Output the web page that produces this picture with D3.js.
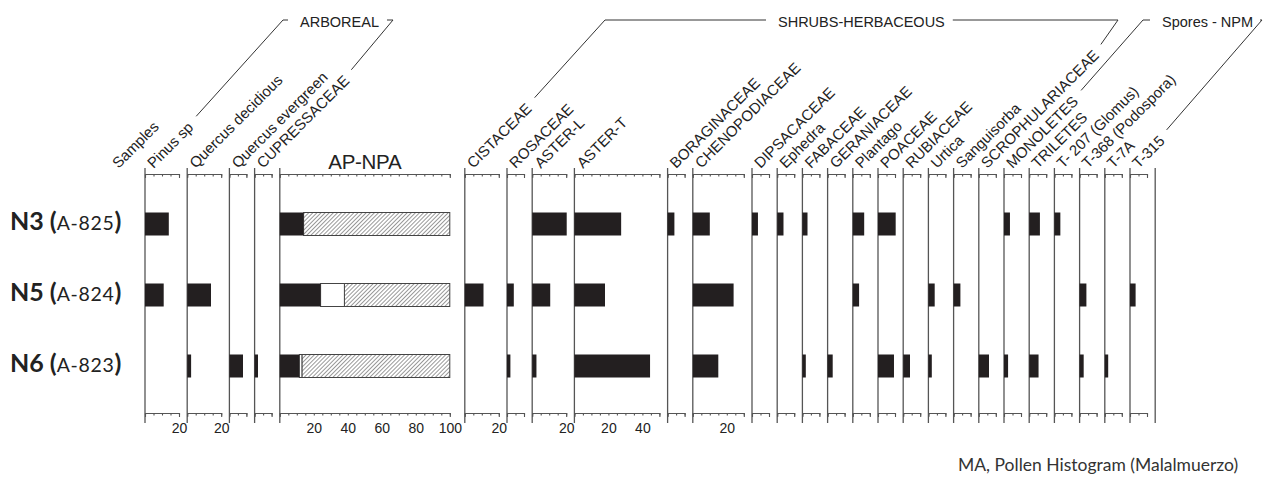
<!DOCTYPE html>
<html>
<head>
<meta charset="utf-8">
<script src="https://cdn.jsdelivr.net/npm/d3@7"></script>
<style>
  body { margin: 0; background: #fff; }
  svg { display: block; }
</style>
</head>
<body>
<svg id="chart" width="1264" height="479"></svg>
<script>
// --- --- --- Data --- --- ---

const samples = ["N3", "N5", "N6"];
const sampleCodes = ["A-825", "A-824", "A-823"];

const taxa = ["Pinus sp", "Quercus decidious", "Quercus evergreen", "CUPRESSACEAE", "AP-NPA",
  "CISTACEAE", "ROSACEAE", "ASTER-L", "ASTER-T", "BORAGINACEAE", "CHENOPODIACEAE",
  "DIPSACACEAE", "Ephedra", "FABACEAE", "GERANIACEAE", "Plantago", "POACEAE", "RUBIACEAE",
  "Urtica", "Sanguisorba", "SCROPHULARIACEAE", "MONOLETES", "TRILETES",
  "T- 207 (Glomus)", "T-368 (Podospora)", "T-7A", "T-315"];
const taxaMax = [20, 20, 10, 10, 100, 20, 10, 20, 50, 10, 30,
  10, 10, 10, 10, 10, 10, 10, 10, 10, 10, 10, 10, 10, 10, 10, 10];

// percentages per sample (for AP-NPA: the black part)
const n3Values = [14, 0, 0, 0, 14, 0, 0, 20.3, 27.5, 4, 10,
  3.5, 3.7, 3, 0, 6.7, 10.4, 0, 0, 0, 0, 3.5, 6.3, 3.5, 0, 0, 0];
const n5Values = [11, 14, 0, 0, 24, 11, 4, 10.6, 18, 0, 24,
  0, 0, 0, 0, 3.7, 0, 0, 3.7, 4, 0, 0, 0, 0, 4, 0, 3.3];
const n6Values = [0, 2.3, 8, 2, 11.5, 0, 2, 2.5, 44.5, 0, 15,
  0, 0, 2, 3, 0, 9.4, 4, 2, 0, 6, 2.4, 5.5, 0, 2.4, 2, 0];
const apWhite = [0, 14, 1.5]; // white part of AP-NPA after the black one

const groups = [
  { title: "ARBOREAL", first: "Pinus sp", last: "CUPRESSACEAE", titleX: 300, leftCorner: 283, rightCorner: 393 },
  { title: "SHRUBS-HERBACEOUS", first: "CISTACEAE", last: "SCROPHULARIACEAE", titleX: 778, leftCorner: 605, rightCorner: 1118 },
  { title: "Spores - NPM", first: "MONOLETES", last: "T-315", titleX: 1162, leftCorner: 1143, rightCorner: 1262 }
];

// --- --- --- Layout --- --- ---
const pxPerPct = 1.7;
const colStart = 145;
const colGap = 8.2;
const topY = 174, axisY = 413, lineTop = 168, lineBottom = 423;
const barH = 23;
const labelFont = "'Liberation Sans', Arial, sans-serif";
const lineColor = "#555";

const svg = d3.select("#chart");

const y = d3.scalePoint().domain(samples).range([224, 366]);
const seriesValues = [n3Values, n5Values, n6Values];

let cursor = colStart;
const columns = taxa.map((name, i) => {
  const w = taxaMax[i] * pxPerPct;
  const col = {
    name, i, max: taxaMax[i], x0: cursor,
    x: d3.scaleLinear().domain([0, taxaMax[i]]).range([cursor, cursor + w])
  };
  cursor += w + (name === "AP-NPA" ? 15 : colGap);
  return col;
});
const endLineX = cursor;

const defs = svg.append("defs");
defs.append("pattern")
  .attr("id", "hatch")
  .attr("patternUnits", "userSpaceOnUse")
  .attr("width", 2.9).attr("height", 2.9)
  .attr("patternTransform", "rotate(45)")
  .append("line")
  .attr("x1", 0).attr("y1", 0).attr("x2", 0).attr("y2", 2.9)
  .attr("stroke", "#333").attr("stroke-width", 1);

// columns: vertical line, top and bottom scales
const colG = svg.selectAll(".col").data(columns).enter().append("g").attr("class", "col");

colG.append("line")
  .attr("x1", d => d.x0).attr("x2", d => d.x0)
  .attr("y1", lineTop).attr("y2", lineBottom)
  .attr("stroke", lineColor).attr("stroke-width", 1.3);

colG.each(function(d) {
  const g = d3.select(this);
  const ticks = d3.range(0, d.max + 1, 5);

  const top = d3.axisBottom(d.x).tickValues(ticks).tickSize(2.5).tickSizeOuter(4).tickFormat("");
  g.append("g").attr("transform", `translate(0,${topY})`).call(top);

  const bottom = d3.axisBottom(d.x).tickValues(ticks).tickSize(2.5).tickSizeOuter(4).tickPadding(8)
    .tickFormat(v => (v > 0 && v % 20 === 0) ? v : "");
  g.append("g").attr("class", "bottom").attr("transform", `translate(0,${axisY})`).call(bottom);

  g.selectAll(".domain, .tick line").attr("stroke", lineColor).attr("stroke-width", 1.1);
  g.selectAll(".tick text")
    .attr("font-family", labelFont).attr("font-size", 14).attr("fill", "#222");
});

svg.append("line")
  .attr("x1", endLineX).attr("x2", endLineX)
  .attr("y1", lineTop).attr("y2", lineBottom)
  .attr("stroke", lineColor).attr("stroke-width", 1.3);

// bars
columns.forEach(col => {
  samples.forEach((s, si) => {
    const v = seriesValues[si][col.i];
    const yTop = y(s) - barH / 2;
    if (col.name === "AP-NPA") {
      const wEnd = v + apWhite[si];
      svg.append("rect")
        .attr("x", col.x(wEnd)).attr("y", yTop)
        .attr("width", col.x(100) - col.x(wEnd)).attr("height", barH)
        .attr("fill", "url(#hatch)").attr("stroke", "#444").attr("stroke-width", 1);
      if (apWhite[si] > 0) {
        svg.append("rect")
          .attr("x", col.x(v)).attr("y", yTop)
          .attr("width", col.x(wEnd) - col.x(v)).attr("height", barH)
          .attr("fill", "#fff").attr("stroke", "#444").attr("stroke-width", 1);
      }
    }
    if (v > 0) {
      svg.append("rect")
        .attr("x", col.x(0)).attr("y", yTop)
        .attr("width", col.x(v) - col.x(0)).attr("height", barH)
        .attr("fill", "#231f20");
    }
  });
});

// header labels
const rot = Math.SQRT1_2;
const labelEnds = {};
columns.forEach(col => {
  if (col.name === "AP-NPA") {
    svg.append("text")
      .attr("x", (col.x(0) + col.x(100)) / 2).attr("y", 169)
      .attr("text-anchor", "middle")
      .attr("font-family", labelFont).attr("font-size", 20.5).attr("letter-spacing", -0.3)
      .attr("fill", "#222").text("AP-NPA");
    return;
  }
  const ox = col.x0 + 8.5, oy = 169;
  const t = svg.append("text")
    .attr("transform", `translate(${ox},${oy}) rotate(-45)`)
    .attr("font-family", labelFont).attr("font-size", 15)
    .attr("fill", "#222").text(col.name);
  const len = t.node().getComputedTextLength();
  labelEnds[col.name] = [ox + len * rot, oy - len * rot];
});

svg.append("text")
  .attr("transform", "translate(118.5,169) rotate(-45)")
  .attr("font-family", labelFont).attr("font-size", 15)
  .attr("fill", "#222").text("Samples");

// group brackets
const lineY = 20;
groups.forEach(gr => {
  const t = svg.append("text")
    .attr("x", gr.titleX).attr("y", 26.5)
    .attr("font-family", labelFont).attr("font-size", 14.5)
    .attr("fill", "#222").text(gr.title);
  const titleEnd = gr.titleX + t.node().getComputedTextLength();
  const a = labelEnds[gr.first], b = labelEnds[gr.last];
  const path = d3.path();
  path.moveTo(a[0] + 2, a[1] - 12);
  path.lineTo(gr.leftCorner, lineY);
  path.lineTo(gr.titleX - 12, lineY);
  path.moveTo(Math.min(titleEnd + 8, gr.rightCorner - 2), lineY);
  path.lineTo(gr.rightCorner, lineY);
  path.lineTo(b[0] + 1, b[1] - 12);
  svg.append("path").attr("d", path.toString())
    .attr("fill", "none").attr("stroke", "#333").attr("stroke-width", 1);
});

// sample labels
samples.forEach((s, si) => {
  const t = svg.append("text")
    .attr("x", 10).attr("y", y(s) + 6)
    .attr("font-family", "Lato, 'Open Sans', sans-serif").attr("fill", "#222");
  t.append("tspan").attr("font-weight", "bold").attr("font-size", 25).text(s + " (");
  t.append("tspan").attr("font-size", 19.5).attr("letter-spacing", 0.7).text(sampleCodes[si]);
  t.append("tspan").attr("font-weight", "bold").attr("font-size", 25).text(")");
});

// caption
svg.append("text")
  .attr("x", 958).attr("y", 471)
  .attr("font-family", "Lato, 'Open Sans', sans-serif").attr("font-size", 17.5)
  .attr("fill", "#333").text("MA, Pollen Histogram (Malalmuerzo)");
</script>
</body>
</html>
